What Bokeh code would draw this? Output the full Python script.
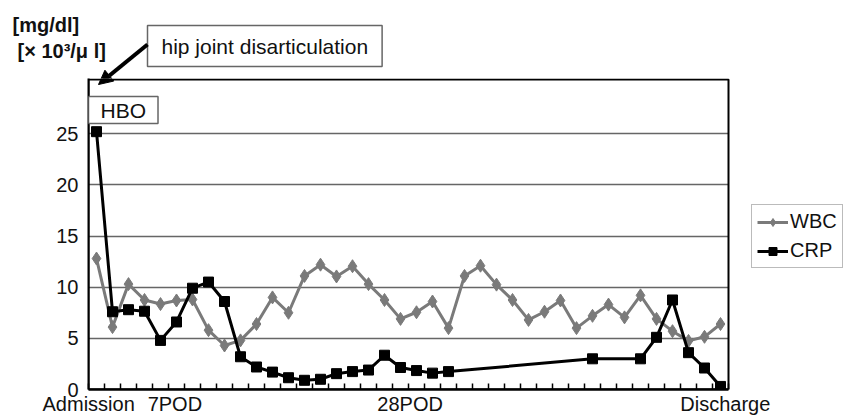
import math
from bokeh.plotting import figure
from bokeh.layouts import column
from bokeh.models import (Range1d, FixedTicker, Legend, LegendItem, Label, Arrow, NormalHead,
                          BoxAnnotation)
from bokeh.embed import file_html
from bokeh.resources import INLINE

# ---- data ----
wbc = [12.8, 6.1, 10.3, 8.75, 8.35, 8.7, 8.8, 5.8, 4.3, 4.8,
       6.4, 9.0, 7.5, 11.1, 12.2, 11.05, 12.05, 10.3, 8.75, 6.9,
       7.55, 8.6, 6.0, 11.1, 12.1, 10.25, 8.75, 6.8, 7.6, 8.7,
       6.0, 7.2, 8.3, 7.05, 9.2, 6.9, 5.7, 4.75, 5.15, 6.4]
crp = [25.2, 7.6, 7.8, 7.65, 4.8, 6.6, 9.9, 10.5, 8.6, 3.2,
       2.2, 1.7, 1.15, 0.9, 1.0, 1.55, 1.75, 1.9, 3.35, 2.15,
       1.85, 1.6, 1.75, None, None, None, None, None, None, None,
       None, 3.0, None, None, 3.0, 5.1, 8.75, 3.6, 2.1, 0.3]
x_label_pos = [-0.49, 4.9, 19.6, 39.3]
x_label_text = ["Admission", "7POD", "28POD", "Discharge"]
y_ticks = [0, 5, 10, 15, 20, 25]
y_top = 30.3
series_names = ["WBC", "CRP"]

FONT = "Liberation Sans"
GRAY = "#7a7a7a"
TXT = "#111111"
W = 843
HEAD_H = 78
MAIN_H = 340
PX_PER_CAT = 16.0

n = len(wbc)
idx = list(range(n))
crp_idx = [i for i, v in enumerate(crp) if v is not None]
crp_val = [crp[i] for i in crp_idx]
boundaries = [i - 0.5 for i in range(n + 1)]
x_lo, x_hi = -0.5, n - 0.5


def no_align(fig):
    try:
        fig.frame_align = False
    except Exception:
        pass


def make_arrow(x0, y0, x1, y1):
    return Arrow(x_start=x0, y_start=y0, x_end=x1, y_end=y1,
                 start_units="screen", end_units="screen",
                 line_width=4, line_color="black",
                 end=NormalHead(size=14, fill_color="black", line_color="black"))


# ---- header strip (units, annotation box, arrow) ----
head = figure(width=W, height=HEAD_H, output_backend="svg", toolbar_location=None,
              x_axis_location=None, y_axis_location=None, min_border=0,
              x_range=Range1d(0, W), y_range=Range1d(0, HEAD_H))
head.outline_line_color = None
head.grid.visible = False
head.background_fill_color = "white"
head.border_fill_color = "white"
no_align(head)
head.add_layout(Label(x=12, y=54, x_units="screen", y_units="screen",
                      text="[mg/dl]", text_font=FONT, text_font_size="20px",
                      text_font_style="bold", text_baseline="middle", text_color=TXT))
head.add_layout(Label(x=17, y=28, x_units="screen", y_units="screen",
                      text="[× 10³/μ l]", text_font=FONT, text_font_size="20px",
                      text_font_style="bold", text_baseline="middle", text_color=TXT))
head.add_layout(Label(x=147, y=12, x_units="screen", y_units="screen",
                      text="hip joint disarticulation", text_font=FONT, text_font_size="21px",
                      padding=(14, 9), border_line_color="#666666", border_line_width=1.5,
                      background_fill_color="white", text_color=TXT))
head.add_layout(make_arrow(147, 34, 98, -6))

# ---- main chart (frame runs to the right edge so the legend can sit beside the box) ----
MIN_LEFT, MIN_BOTTOM = 88, 29
frame_w = W - MIN_LEFT
frame_h = MAIN_H - MIN_BOTTOM
p = figure(width=W, height=MAIN_H, output_backend="svg", toolbar_location=None,
           x_range=Range1d(x_lo, x_lo + frame_w / PX_PER_CAT),
           y_range=Range1d(0, y_top * frame_h / (frame_h - 1)),
           min_border_left=MIN_LEFT, min_border_top=0, min_border_bottom=MIN_BOTTOM,
           min_border_right=0)
no_align(p)
p.background_fill_color = "white"
p.border_fill_color = "white"
p.outline_line_color = None

# chart border
p.add_layout(BoxAnnotation(left=x_lo, right=x_hi, bottom=0, top=y_top,
                           fill_color=None, fill_alpha=0,
                           line_color="black", line_width=2, line_alpha=1))

p.xaxis.bounds = (x_lo, x_hi)
p.xaxis.ticker = FixedTicker(ticks=x_label_pos, minor_ticks=boundaries)
p.xaxis.major_label_overrides = {pos: t for pos, t in zip(x_label_pos, x_label_text)}
p.xaxis.major_tick_in = 0
p.xaxis.major_tick_out = 0
p.xaxis.minor_tick_in = 6
p.xaxis.minor_tick_out = 0
p.xaxis.minor_tick_line_color = "black"
p.xaxis.minor_tick_line_width = 1.5
p.xaxis.axis_line_color = "black"
p.xaxis.axis_line_width = 2.5
p.xaxis.major_label_text_font = FONT
p.xaxis.major_label_text_font_size = "20px"
p.xaxis.major_label_text_color = TXT
p.xaxis.major_label_standoff = 3

p.yaxis.ticker = FixedTicker(ticks=y_ticks)
p.yaxis.major_tick_in = 0
p.yaxis.major_tick_out = 0
p.yaxis.minor_tick_line_color = None
p.yaxis.axis_line_color = "black"
p.yaxis.axis_line_width = 2
p.yaxis.major_label_text_font = FONT
p.yaxis.major_label_text_font_size = "20px"
p.yaxis.major_label_text_color = TXT
p.yaxis.major_label_standoff = 10

p.xgrid.visible = False
grid = p.ygrid[0]
grid.ticker = FixedTicker(ticks=y_ticks)
grid.grid_line_color = "#666666"
grid.grid_line_width = 1.5
if "cross_bounds" in grid.properties():
    grid.cross_bounds = (x_lo, x_hi)
else:
    grid.visible = False
    gy = [t for t in y_ticks if t > 0]
    p.segment(x0=[x_lo] * len(gy), y0=gy, x1=[x_hi] * len(gy), y1=gy,
              line_color="#666666", line_width=1.5)

line_styles = [dict(line_color=GRAY, line_width=3), dict(line_color="black", line_width=3)]
marker_styles = [dict(marker="diamond", size=13, fill_color=GRAY, line_color=GRAY),
                 dict(marker="square", size=10, fill_color="black", line_color="black")]

l1 = p.line(idx, wbc, **line_styles[0])
s1 = p.scatter(idx, wbc, **marker_styles[0])
l2 = p.line(crp_idx, crp_val, **line_styles[1])
s2 = p.scatter(crp_idx, crp_val, **marker_styles[1])

legend = Legend(items=[LegendItem(label=series_names[0], renderers=[l1, s1]),
                       LegendItem(label=series_names[1], renderers=[l2, s2])],
                location=(663, 121), margin=0, padding=5, spacing=6,
                glyph_width=31, glyph_height=20, label_standoff=2,
                label_text_font=FONT, label_text_font_size="20px", label_text_color=TXT,
                border_line_color="#777777", border_line_width=1.5,
                background_fill_color="white", background_fill_alpha=1)
p.add_layout(legend)

p.add_layout(Label(x=0, y=266, x_units="screen", y_units="screen",
                   text="HBO", text_font=FONT, text_font_size="21px",
                   padding=(12, 2), border_line_color="#666666", border_line_width=1.5,
                   background_fill_color="white", text_color=TXT))
# lower part of the same arrow, reaching into the plot corner
p.add_layout(make_arrow(59, 345, 10, 305))

layout = column(head, p, spacing=0)
open("out.html", "w").write(file_html(layout, INLINE))
